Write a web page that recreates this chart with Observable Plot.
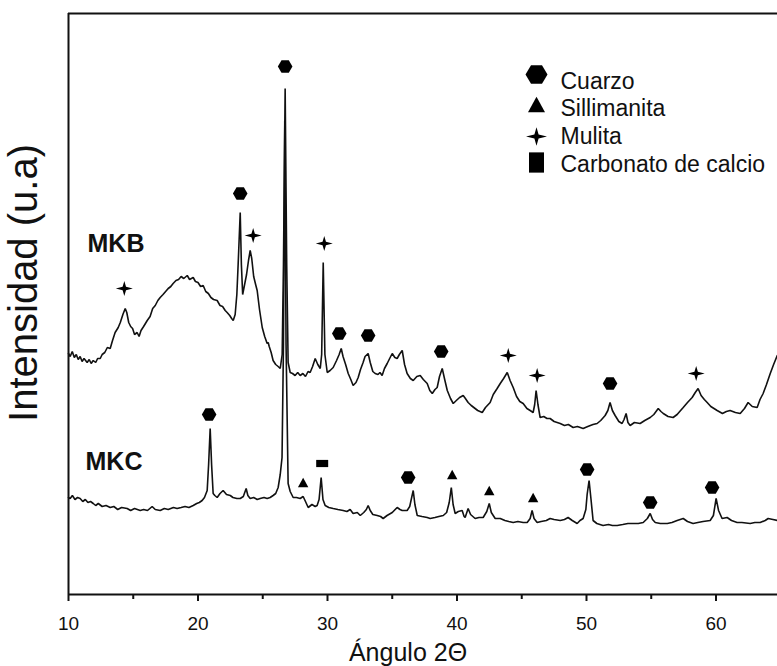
<!DOCTYPE html>
<html>
<head>
<meta charset="utf-8">
<script src="https://cdn.jsdelivr.net/npm/d3@7"></script>
<script src="https://cdn.jsdelivr.net/npm/@observablehq/plot@0.6"></script>
<style>
  html, body { margin: 0; padding: 0; background: #fff; }
  #chart svg { display: block; }
</style>
</head>
<body>
<div id="chart"></div>
<script>
// ---------- data (2θ in degrees, intensity in arbitrary units) ----------
const mkbAngle = [10.0,10.13,10.29,10.45,10.6,10.75,10.9,11.05,11.2,11.44,11.6,11.75,11.91,12.1,12.25,12.45,12.6,12.8,13.0,13.22,13.4,13.6,13.84,14.0,14.2,14.38,14.5,14.65,14.8,14.95,15.1,15.3,15.45,15.6,15.8,16.08,16.3,16.5,16.7,16.9,17.08,17.3,17.5,17.7,17.9,18.08,18.3,18.5,18.7,18.9,19.17,19.35,19.63,19.8,20.0,20.2,20.4,20.6,20.8,21.0,21.2,21.48,21.7,21.9,22.1,22.25,22.45,22.6,22.72,22.87,23.0,23.1,23.26,23.35,23.45,23.6,23.75,23.9,24.03,24.15,24.3,24.45,24.57,24.75,24.96,25.15,25.34,25.42,25.5,25.65,25.8,26.0,26.19,26.35,26.5,26.6,26.73,26.85,26.96,27.12,27.3,27.5,27.7,27.89,28.1,28.3,28.5,28.66,28.85,29.05,29.25,29.44,29.55,29.67,29.8,29.98,30.2,30.44,30.7,30.9,31.06,31.2,31.4,31.6,31.8,31.98,32.2,32.37,32.55,32.75,32.9,33.14,33.3,33.5,33.68,33.9,34.05,34.22,34.4,34.61,34.8,35.0,35.2,35.38,35.55,35.77,35.95,36.15,36.4,36.62,36.9,37.16,37.4,37.7,37.9,38.09,38.3,38.47,38.65,38.86,39.05,39.25,39.5,39.71,39.95,40.2,40.48,40.65,40.86,41.1,41.4,41.6,41.95,42.2,42.56,42.8,43.1,43.34,43.6,43.88,44.1,44.34,44.6,44.85,45.11,45.4,45.65,45.88,46.0,46.11,46.25,46.42,46.7,46.95,47.19,47.5,47.97,48.3,48.6,48.97,49.3,49.74,50.1,50.5,50.82,51.1,51.44,51.65,51.82,52.0,52.21,52.5,52.75,52.9,53.06,53.2,53.37,53.7,54.14,54.5,54.92,55.2,55.54,55.75,55.93,56.3,56.69,57.0,57.2,57.47,57.8,58.16,58.4,58.62,58.85,59.1,59.32,59.6,60.09,60.5,60.8,61.09,61.5,61.87,62.2,62.48,62.8,63.18,63.4,63.64,63.9,64.19,64.45,64.73];
const mkbIntensity = [241,238,243,237,240,235,238,233,236,232,235,231,234,232,236,236,240,242,247,246,254,262,267,272,280,286,282,272,268,266,260,262,258,264,268,274,278,286,289,294,297,300,303,306,308,311,314,315,318,316,319,315,317,313,312,308,309,303,301,297,295,294,289,288,284,282,279,276,274,280,300,330,382,330,300,310,320,334,344,336,318,310,304,285,267,258,251,252,248,242,234,230,228,226,240,330,506,330,232,222,221,219,222,219,221,218,223,222,228,236,230,226,240,332,240,222,224,227,234,240,246,238,230,221,215,209,212,217,225,232,238,241,232,223,221,220,222,219,226,231,236,241,237,236,240,244,230,221,216,214,218,219,215,211,204,201,205,207,218,226,215,204,196,191,194,197,199,196,192,189,186,184,182,187,192,200,206,211,216,222,214,207,198,193,191,186,184,182,190,204,190,177,178,176,176,173,171,169,170,167,168,166,168,170,171,174,179,184,192,184,179,173,171,175,181,172,169,172,171,174,177,180,186,183,181,178,177,180,183,187,192,197,202,206,199,195,192,188,184,181,183,184,182,181,186,192,188,187,195,201,210,221,230,239];

const mkcAngle = [10.0,10.13,10.3,10.5,10.7,10.9,11.1,11.3,11.5,11.7,11.91,12.1,12.3,12.6,12.9,13.22,13.5,13.8,14.1,14.53,14.8,15.1,15.54,15.8,16.1,16.46,16.7,17.08,17.4,17.7,18.1,18.39,18.7,19.0,19.3,19.63,19.9,20.1,20.32,20.5,20.71,20.82,20.94,21.05,21.17,21.3,21.48,21.7,21.94,22.2,22.49,22.7,23.0,23.26,23.5,23.72,23.85,24.03,24.3,24.57,24.8,25.1,25.34,25.57,25.8,26.0,26.19,26.35,26.49,26.6,26.7,26.8,26.96,27.12,27.35,27.6,27.89,28.12,28.3,28.51,28.8,29.05,29.2,29.35,29.51,29.65,29.82,30.1,30.44,30.8,31.21,31.5,31.75,31.98,32.3,32.53,32.8,33.0,33.14,33.3,33.5,33.84,34.1,34.3,34.6,35.0,35.38,35.6,35.77,36.15,36.35,36.5,36.62,36.75,36.93,37.3,37.7,37.93,38.3,38.6,38.94,39.2,39.4,39.56,39.7,39.86,40.1,40.4,40.55,40.63,40.86,41.05,41.4,41.7,42.02,42.3,42.49,42.65,42.95,43.34,43.7,44.0,44.34,44.7,45.11,45.42,45.65,45.8,45.95,46.19,46.5,46.9,47.19,47.5,47.97,48.3,48.58,48.9,49.28,49.5,49.74,49.95,50.05,50.2,50.35,50.51,50.8,51.28,51.7,52.0,52.37,52.8,53.2,53.6,54.0,54.38,54.7,54.92,55.1,55.31,55.7,56.24,56.6,57.0,57.47,57.8,58.23,58.6,59.0,59.55,59.8,60.01,60.2,60.47,60.86,61.2,61.63,62.0,62.64,63.0,63.41,63.8,64.03,64.4,64.73];
const mkcIntensity = [97,96,99,95,97,96,93,95,92,93,91,89,91,88,89,87,88,85,87,86,84,86,84,85,84,88,85,84,86,85,87,86,87,88,87,89,91,92,94,97,104,130,166,130,101,99,97,101,104,100,99,97,96,96,98,106,99,96,97,95,96,97,96,97,99,101,107,120,137,250,474,250,111,103,97,97,96,98,93,87,90,88,89,95,117,95,89,87,86,85,84,83,85,81,82,79,82,85,89,84,80,79,78,76,79,82,87,85,84,84,88,97,104,90,79,78,77,76,77,78,79,82,92,107,90,81,83,84,78,77,86,80,76,77,77,83,91,82,76,76,74,73,72,73,72,72,76,84,76,72,73,74,76,75,74,75,77,74,71,74,76,85,100,114,95,74,71,69,70,69,69,70,71,71,71,72,76,81,75,72,71,71,72,74,76,73,71,72,73,74,79,96,84,76,77,74,72,72,71,72,72,74,76,75,74];

// phase markers over the peaks
const phases = ["Cuarzo", "Sillimanita", "Mulita", "Carbonato de calcio"];
const mkbMarkerPhase = ["Mulita","Cuarzo","Mulita","Cuarzo","Mulita","Cuarzo","Cuarzo","Cuarzo","Mulita","Mulita","Cuarzo","Mulita"];
const mkbMarkerAngle = [14.31,23.26,24.26,26.73,29.75,30.91,33.14,38.78,43.96,46.19,51.82,58.47];
const mkbMarkerHeight = [306,401,359,528,351,261,259,243,239,219,211,221];
const mkcMarkerPhase = ["Cuarzo","Sillimanita","Carbonato de calcio","Cuarzo","Sillimanita","Sillimanita","Sillimanita","Cuarzo","Cuarzo","Cuarzo"];
const mkcMarkerAngle = [20.86,28.12,29.59,36.23,39.63,42.49,45.88,50.05,54.92,59.70];
const mkcMarkerHeight = [180,112,131,117,120,104,97,125,92,107];

const majorTicks = [10, 20, 30, 40, 50, 60];
const minorTicks = [15, 25, 35, 45, 55];
const seriesNames = ["MKB", "MKC"];
const xLabel = "Ángulo 2Θ";
const yLabel = "Intensidad (u.a)";

// ---------- symbols ----------
const rOf = s => Math.sqrt(s / Math.PI);
const hexagonSym = { draw(c, s) { const w = rOf(s), h = w * 0.84;
  c.moveTo(-w, 0); c.lineTo(-w / 2, -h); c.lineTo(w / 2, -h); c.lineTo(w, 0); c.lineTo(w / 2, h); c.lineTo(-w / 2, h); c.closePath(); } };
const triangleSym = { draw(c, s) { const w = rOf(s), h = w * 0.9;
  c.moveTo(0, -h); c.lineTo(w, h); c.lineTo(-w, h); c.closePath(); } };
const sparkleSym = { draw(c, s) { const w = rOf(s), v = w * 0.88, t = w * 0.2;
  c.moveTo(0, -v); c.lineTo(t, -t); c.lineTo(w, 0); c.lineTo(t, t); c.lineTo(0, v); c.lineTo(-t, t); c.lineTo(-w, 0); c.lineTo(-t, -t); c.closePath(); } };
const wideRectSym = { draw(c, s) { const w = rOf(s), h = w * 0.6; c.rect(-w, -h, 2 * w, 2 * h); } };
const tallRectSym = { draw(c, s) { const w = rOf(s), h = w * 1.35; c.rect(-w, -h, 2 * w, 2 * h); } };

const chartSymbol = { "Cuarzo": [hexagonSym, 7.3], "Sillimanita": [triangleSym, 5.2], "Mulita": [sparkleSym, 8.5], "Carbonato de calcio": [wideRectSym, 6] };
const legendSymbol = { "Cuarzo": [hexagonSym, 11], "Sillimanita": [triangleSym, 8.5], "Mulita": [sparkleSym, 10.5], "Carbonato de calcio": [tallRectSym, 7.5] };

// ---------- tables ----------
const mkb = mkbAngle.map((a, i) => ({ angle: a, intensity: mkbIntensity[i] }));
const mkc = mkcAngle.map((a, i) => ({ angle: a, intensity: mkcIntensity[i] }));
const markers = [
  ...mkbMarkerAngle.map((a, i) => ({ phase: mkbMarkerPhase[i], angle: a, height: mkbMarkerHeight[i] })),
  ...mkcMarkerAngle.map((a, i) => ({ phase: mkcMarkerPhase[i], angle: a, height: mkcMarkerHeight[i] }))
];

const ink = "#111";
const font = "'Liberation Sans', Arial, Helvetica, sans-serif";

const legendSymY = [61, 91, 123, 149];
const legendTextY = [68, 95, 123, 151];

const marks = [
  Plot.line(mkb, { x: "angle", y: "intensity", stroke: ink, strokeWidth: 1.6, strokeLinejoin: "miter" }),
  Plot.line(mkc, { x: "angle", y: "intensity", stroke: ink, strokeWidth: 1.6, strokeLinejoin: "miter" }),
  ...phases.map(p => Plot.dot(markers.filter(d => d.phase === p), {
    x: "angle", y: "height", symbol: chartSymbol[p][0], r: chartSymbol[p][1], fill: "#000", stroke: "none"
  })),
  // frame (left, bottom, top)
  Plot.ruleX([10], { stroke: ink, strokeWidth: 2 }),
  Plot.ruleY([0, 581], { stroke: ink, strokeWidth: 2 }),
  // axis ticks
  Plot.axisX({ ticks: majorTicks, tickSize: 7, tickPadding: 15, fontSize: 19, label: null, strokeWidth: 2, color: ink }),
  Plot.axisX({ ticks: minorTicks, tickSize: 5, tickFormat: () => "", label: null, strokeWidth: 2, color: ink }),
  // axis titles
  Plot.text([xLabel], { text: d => d, frameAnchor: "bottom", textAnchor: "middle", dx: -15, dy: 58, lineAnchor: "middle", fontSize: 25, fill: ink }),
  Plot.text([yLabel], { text: d => d, frameAnchor: "left", textAnchor: "middle", rotate: -90, dx: -44, dy: -21, lineAnchor: "middle", fontSize: 40, fill: ink }),
  // series labels
  Plot.text([seriesNames[0]], { text: d => d, frameAnchor: "top-left", dx: 19, dy: 230, textAnchor: "start", lineAnchor: "middle", fontSize: 25, fontWeight: "bold", fill: ink }),
  Plot.text([seriesNames[1]], { text: d => d, frameAnchor: "top-left", dx: 17, dy: 448, textAnchor: "start", lineAnchor: "middle", fontSize: 25, fontWeight: "bold", fill: ink }),
  // legend
  ...phases.map((p, i) => Plot.dot([p], { frameAnchor: "top-left", dx: 468, dy: legendSymY[i], symbol: legendSymbol[p][0], r: legendSymbol[p][1], fill: "#000", stroke: "none" })),
  ...phases.map((p, i) => Plot.text([p], { text: d => d, frameAnchor: "top-left", dx: 492, dy: legendTextY[i], textAnchor: "start", lineAnchor: "middle", fontSize: 23, fill: ink }))
];

const chart = Plot.plot({
  width: 777,
  height: 666,
  marginLeft: 68,
  marginRight: 0,
  marginTop: 13,
  marginBottom: 72,
  style: { fontFamily: font, background: "#fff", overflow: "visible", color: ink },
  x: { domain: [10, 64.75] },
  y: { domain: [0, 581], axis: null },
  marks
});
document.getElementById("chart").append(chart);
</script>
</body>
</html>
